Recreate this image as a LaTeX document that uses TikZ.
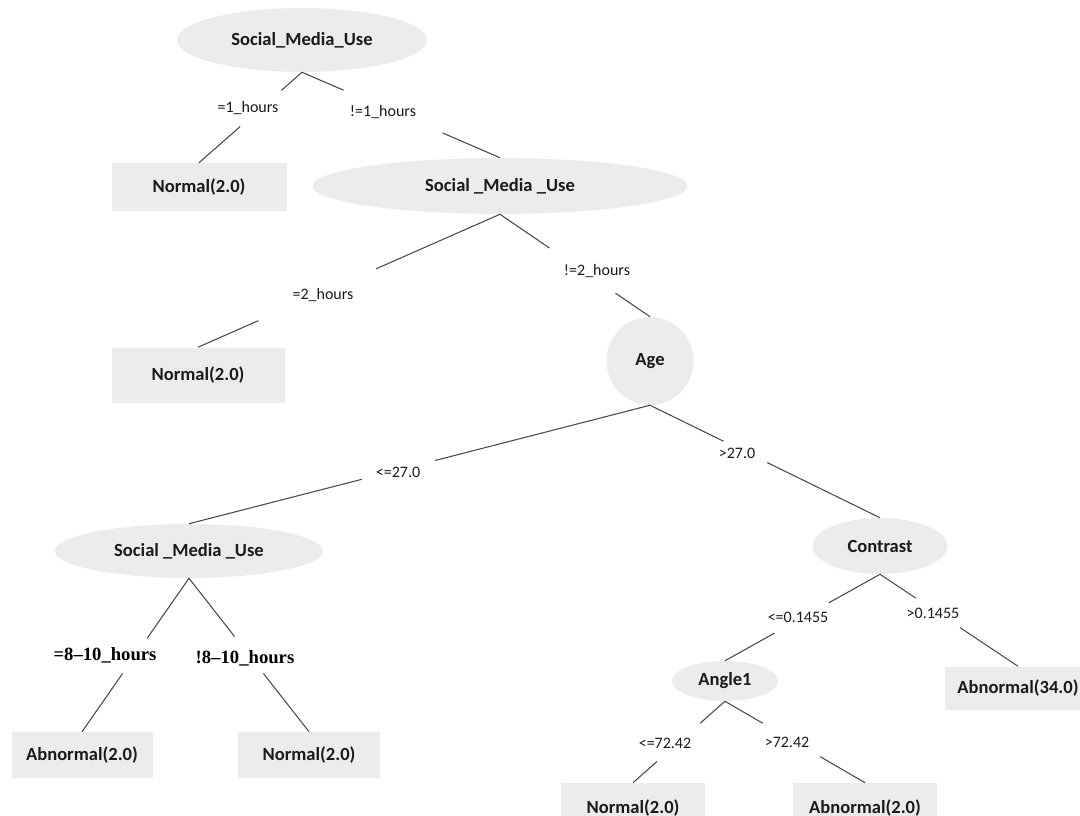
\documentclass[tikz,border=0pt]{standalone}
\usepackage{fontspec}
\setmainfont{Carlito}
\newfontfamily\serifbold{Liberation Serif}
\usetikzlibrary{shapes.geometric,calc}
\definecolor{nodegray}{HTML}{ECECEC}
\definecolor{linegray}{HTML}{4A4A4A}
\definecolor{txt}{HTML}{1A1A1A}
\newcommand\brline[4]{\draw[edgeline] (#1.south) -- ($(#1.south)!#3!(#2.north)$) ($(#1.south)!#4!(#2.north)$) -- (#2.north);}
\begin{document}
\begin{tikzpicture}[x=0.75pt,y=-0.75pt,
  inode/.style={ellipse,fill=nodegray,draw=none,inner sep=0pt,text=txt,font=\fontsize{13.9}{16}\selectfont\bfseries},
  leaf/.style={rectangle,fill=nodegray,draw=none,inner sep=0pt,text=txt,font=\fontsize{13.9}{16}\selectfont\bfseries},
  lbl/.style={inner sep=0pt,text=txt,font=\fontsize{12}{14}\selectfont},
  slbl/.style={inner sep=0pt,text=black,font=\fontsize{14}{16}\selectfont\serifbold\bfseries},
  edgeline/.style={draw=linegray,line width=0.8pt}]
\useasboundingbox (0,0) rectangle (1080,816);
% nodes
\node[inode,minimum width=250*0.75pt,minimum height=64*0.75pt] (root) at (302,40) {Social\_Media\_Use};
\node[leaf,minimum width=175*0.75pt,minimum height=48*0.75pt] (n1) at (199,187) {Normal(2.0)};
\node[inode,minimum width=375*0.75pt,minimum height=56*0.75pt] (s2) at (500,186) {Social \_Media \_Use};
\node[leaf,minimum width=173*0.75pt,minimum height=55*0.75pt] (n2) at (198,375) {Normal(2.0)};
\node[inode,minimum width=87*0.75pt,minimum height=88*0.75pt] (age) at (650,361) {Age};
\node[inode,minimum width=268*0.75pt,minimum height=54*0.75pt] (s3) at (189,551) {Social \_Media \_Use};
\node[inode,minimum width=135*0.75pt,minimum height=56*0.75pt] (con) at (880,546) {Contrast};
\node[leaf,minimum width=141*0.75pt,minimum height=46*0.75pt] (a1) at (82,755) {Abnormal(2.0)};
\node[leaf,minimum width=142*0.75pt,minimum height=46*0.75pt] (n3) at (309,755) {Normal(2.0)};
\node[inode,minimum width=106*0.75pt,minimum height=40*0.75pt] (ang) at (725,681) {Angle1};
\node[leaf,minimum width=146*0.75pt,minimum height=43*0.75pt] (a34) at (1018,688) {Abnormal(34.0)};
\node[leaf,minimum width=144*0.75pt,minimum height=50*0.75pt] (n4) at (633,808) {Normal(2.0)};
\node[leaf,minimum width=144*0.75pt,minimum height=50*0.75pt] (a2) at (865,808) {Abnormal(2.0)};
% connectors
\brline{root}{n1}{0.20}{0.60}
\brline{root}{s2}{0.21}{0.71}
\brline{s2}{n2}{0.41}{0.80}
\brline{s2}{age}{0.33}{0.77}
\brline{age}{s3}{0.466}{0.625}
\brline{age}{con}{0.32}{0.51}
\brline{s3}{a1}{0.39}{0.62}
\brline{s3}{n3}{0.38}{0.62}
\brline{con}{ang}{0.33}{0.68}
\brline{con}{a34}{0.26}{0.58}
\brline{ang}{n4}{0.27}{0.74}
\brline{ang}{a2}{0.27}{0.68}
% labels
\node[lbl] (l1) at (248,108) {=1\_hours};
\node[lbl] (l2) at (383,112) {!=1\_hours};
\node[lbl] (l3) at (323,295) {=2\_hours};
\node[lbl] (l4) at (597,271) {!=2\_hours};
\node[lbl] (l5) at (398,472) {<=27.0};
\node[lbl] (l6) at (737,453) {>27.0};
\node[slbl] (l7) at (105,655) {=8–10\_hours};
\node[slbl] (l8) at (245,658) {!8–10\_hours};
\node[lbl] (l9) at (798,617) {<=0.1455};
\node[lbl] (l10) at (933,613) {>0.1455};
\node[lbl] (l11) at (665,743) {<=72.42};
\node[lbl] (l12) at (787,742) {>72.42};
\end{tikzpicture}
\end{document}
